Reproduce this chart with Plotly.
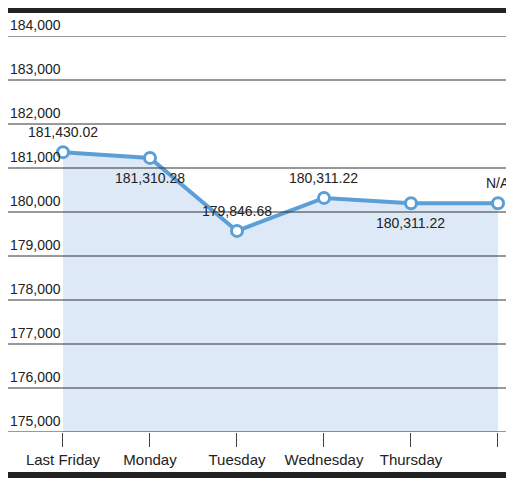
import plotly.graph_objects as go

days = ["Last Friday", "Monday", "Tuesday", "Wednesday", "Thursday", "Friday"]
values = [181360, 181230, 179570, 180320, 180200, 180200]
labels = ["181,430.02", "181,310.28", "179,846.68", "180,311.22", "180,311.22", "N/A"]
label_pos = ["above", "below", "above", "above", "below", "above"]
yticks = list(range(175000, 184001, 1000))

xs = list(range(len(days)))
fig = go.Figure()
fig.add_trace(go.Scatter(x=[xs[0], xs[-1]], y=[175000, 175000], mode="lines",
                         line=dict(width=0), showlegend=False, hoverinfo="skip"))
fig.add_trace(go.Scatter(x=xs, y=values, mode="lines+markers", fill="tonexty",
                         fillcolor="#dde9f6",
                         line=dict(color="#5b9fd6", width=4),
                         marker=dict(size=11, color="white", line=dict(color="#5b9fd6", width=3)),
                         showlegend=False))
font = "Liberation Sans Narrow, Arial Narrow, Liberation Sans"
for v in yticks:
    fig.add_shape(type="line", xref="paper", x0=0, x1=1, y0=v, y1=v,
                  line=dict(color="#333", width=1), layer="below" if False else "above")
    fig.add_annotation(x=-0.632, y=v, text=f"{v:,}", showarrow=False, xanchor="left",
                       yanchor="bottom", yshift=1,
                       font=dict(family=font, size=14, color="#222"))
for x, v, t, p in zip(xs, values, labels, label_pos):
    fig.add_annotation(x=x, y=v, text=t, showarrow=False,
                       yshift=20 if p == "above" else -20,
                       font=dict(family=font, size=14, color="#222"))
fig.add_shape(type="rect", xref="paper", yref="paper", x0=0, x1=1, y0=1.058, y1=1.0707,
              fillcolor="#222", line_width=0)
fig.add_shape(type="rect", xref="paper", yref="paper", x0=0, x1=1, y0=-0.101, y1=-0.116,
              fillcolor="#222", line_width=0)
fig.update_layout(width=500, height=470, margin=dict(l=0, r=0, t=28, b=46),
                  plot_bgcolor="white", paper_bgcolor="white")
fig.update_xaxes(range=[-0.632, 5.115], tickvals=xs, ticktext=days, showgrid=False,
                 ticks="outside", ticklen=14, tickcolor="#444", zeroline=False,
                 tickfont=dict(family=font, size=15, color="#222"))
fig.update_yaxes(range=[175000, 184000], showticklabels=False,
                 showgrid=False, zeroline=False, showline=False)
fig.write_html("out.html")
